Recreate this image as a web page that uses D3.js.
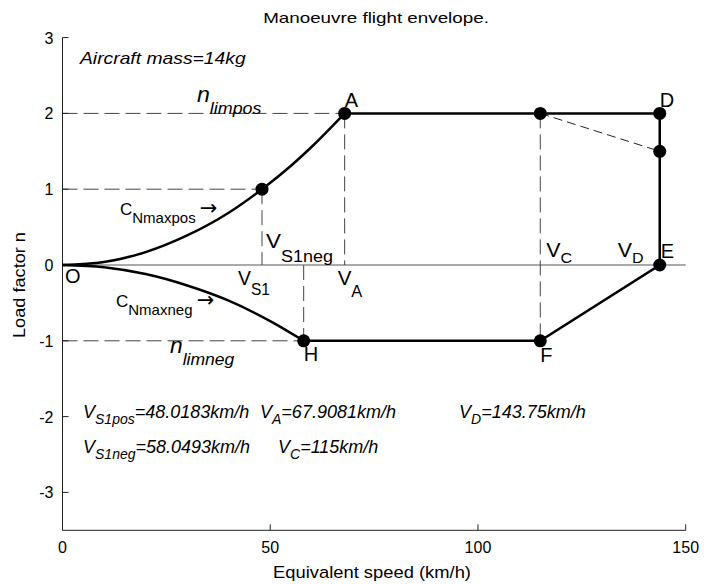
<!DOCTYPE html>
<html>
<head>
<meta charset="utf-8">
<script src="https://cdn.jsdelivr.net/npm/d3@7"></script>
<style>
  body { margin: 0; background: #fff; }
  text { font-family: "Liberation Sans", Arial, sans-serif; fill: #000; }
  .arrow { font-family: "DejaVu Sans", sans-serif; }
</style>
</head>
<body>
<script>
// values
var posV = [0, 10, 20, 30, 40, 48.02, 55, 60, 67.91];      // C_Nmaxpos curve
var posN = [0, 0.04, 0.17, 0.39, 0.69, 1, 1.31, 1.56, 2];
var negV = [0, 10, 20, 30, 40, 50, 58.05];                 // C_Nmaxneg curve
var negN = [0, -0.03, -0.12, -0.27, -0.47, -0.74, -1];
var envV = [67.91, 115, 143.75, 143.75, 115, 58.05];       // A-C-D-E-F-H
var envN = [2, 2, 2, 0, -1, -1];
var dotV = [48.02, 67.91, 115, 143.75, 143.75, 143.75, 115, 58.05];
var dotN = [1, 2, 2, 2, 1.5, 0, -1, -1];
var xTicks = [0, 50, 100, 150];
var yTicks = [-3, -2, -1, 0, 1, 2, 3];

var width = 704, height = 584;

var svg = d3.select("body").append("svg")
    .attr("width", width)
    .attr("height", height);

var x = d3.scaleLinear().domain([0, 150]).range([62.5, 685.7]);
var y = d3.scaleLinear().domain([-3.5, 3]).range([530.3, 37.6]);

function pts(vs, ns) { return vs.map(function (v, i) { return [v, ns[i]]; }); }

// text with subscripts; o.w stretches it sideways to a target width
function rich(px, py, parts, o) {
  o = o || {};
  var t = svg.append("text")
      .style("font-style", o.italic ? "italic" : "normal")
      .attr("text-anchor", o.anchor || "start");
  var down = false;
  parts.forEach(function (p) {
    var isSub = p[1] == "sub";
    var ts = t.append("tspan").text(p[0])
        .style("font-size", (p[2] || (isSub ? (o.sub || 15) : (o.size || 20))) + "px");
    if (p[1] == "arrow") ts.attr("class", "arrow");
    if (isSub && !down) { ts.attr("dy", o.shift || 8); down = true; }
    else if (!isSub && down) { ts.attr("dy", -(o.shift || 8)); down = false; }
  });
  var sx = 1;
  if (o.w) sx = o.w / t.node().getBBox().width;
  t.attr("transform", "translate(" + px + "," + py + ")" + (o.rot ? " rotate(" + o.rot + ")" : "") +
         " scale(" + sx + ",1)");
  return t;
}

// zero line
svg.append("line")
    .attr("x1", x(0)).attr("x2", x(150))
    .attr("y1", y(0)).attr("y2", y(0))
    .attr("stroke", "#555").attr("stroke-width", 1);

// dashed guide lines
var guides = [
  [[0, 2], [67.91, 2]], [[0, 1], [48.02, 1]], [[0, -1], [58.05, -1]],
  [[48.02, 1], [48.02, 0]], [[58.05, 0], [58.05, -1]],
  [[67.91, 2], [67.91, 0]], [[115, 2], [115, -1]]
];
guides.forEach(function (g) {
  svg.append("line")
      .attr("x1", x(g[0][0])).attr("y1", y(g[0][1]))
      .attr("x2", x(g[1][0])).attr("y2", y(g[1][1]))
      .attr("stroke", "#444").attr("stroke-width", 1)
      .attr("stroke-dasharray", "15,6");
});
svg.append("line")
    .attr("x1", x(115)).attr("y1", y(2))
    .attr("x2", x(143.75)).attr("y2", y(1.5))
    .attr("stroke", "#222").attr("stroke-width", 1)
    .attr("stroke-dasharray", "9,5");

// axes (MATLAB style, ticks inside, no box)
svg.append("line").attr("x1", x(0)).attr("x2", x(0)).attr("y1", y(3)).attr("y2", y(-3.5))
    .attr("stroke", "#222").attr("stroke-width", 1);
svg.append("line").attr("x1", x(0)).attr("x2", x(150)).attr("y1", y(-3.5)).attr("y2", y(-3.5))
    .attr("stroke", "#222").attr("stroke-width", 1);
yTicks.forEach(function (t) {
  svg.append("line").attr("x1", x(0)).attr("x2", x(0) + 6).attr("y1", y(t)).attr("y2", y(t))
      .attr("stroke", "#222");
  svg.append("text").attr("x", x(0) - 9).attr("y", y(t) + 6)
      .attr("text-anchor", "end").style("font-size", "16px").text(t);
});
xTicks.forEach(function (t) {
  svg.append("line").attr("x1", x(t)).attr("x2", x(t)).attr("y1", y(-3.5)).attr("y2", y(-3.5) - 6)
      .attr("stroke", "#222");
  svg.append("text").attr("x", x(t)).attr("y", 553)
      .attr("text-anchor", "middle").style("font-size", "16px").text(t);
});

// curves and envelope
var line = d3.line().x(function (d) { return x(d[0]); }).y(function (d) { return y(d[1]); });
var smooth = d3.line().curve(d3.curveMonotoneX)
    .x(function (d) { return x(d[0]); }).y(function (d) { return y(d[1]); });

svg.append("path").attr("d", smooth(pts(posV, posN)))
    .attr("fill", "none").attr("stroke", "#000").attr("stroke-width", 2.5);
svg.append("path").attr("d", smooth(pts(negV, negN)))
    .attr("fill", "none").attr("stroke", "#000").attr("stroke-width", 2.5);
svg.append("path").attr("d", line(pts(envV, envN)))
    .attr("fill", "none").attr("stroke", "#000").attr("stroke-width", 2.5);

svg.selectAll("circle.dot").data(pts(dotV, dotN)).enter().append("circle")
    .attr("class", "dot")
    .attr("cx", function (d) { return x(d[0]); })
    .attr("cy", function (d) { return y(d[1]); })
    .attr("r", 6.5).attr("fill", "#000");

// title and axis labels
rich(376, 23, [["Manoeuvre flight envelope."]], { size: 15, w: 226, anchor: "middle" });
rich(372, 578, [["Equivalent speed (km/h)"]], { size: 17, w: 198, anchor: "middle" });
rich(25, 285, [["Load factor n"]], { size: 17, w: 106, anchor: "middle", rot: -90 });

// annotations
rich(80, 64, [["Aircraft mass=14kg"]], { italic: true, size: 16, w: 167 });
rich(197, 102, [["n"], ["limpos", "sub"]], { italic: true, size: 22, sub: 17, shift: 12, w: 65 });
rich(170, 353, [["n"], ["limneg", "sub"]], { italic: true, size: 22, sub: 17, shift: 12, w: 65 });

rich(x(67.91), y(2) - 6, [["A"]]);
rich(x(143.75), y(2) - 6, [["D"]]);
rich(x(143.75) + 1, y(0) - 7, [["E"]]);
rich(65, 283, [["O"]]);
rich(x(58.05), y(-1) + 20, [["H"]]);
rich(x(115), y(-1) + 21, [["F"]]);

rich(x(143.75) - 42, y(0) - 8, [["V"], ["D", "sub"]], { shift: 6, w: 26 });
rich(x(115) + 6, y(0) - 8, [["V"], ["C", "sub"]], { shift: 6, w: 26 });
rich(x(48.02) + 4, y(0) - 17, [["V"], ["S1neg", "sub"]], { sub: 16, shift: 14, w: 67 });
rich(x(48.02) - 24, y(0) + 20, [["V"], ["S1", "sub"]], { sub: 16, shift: 10, w: 32 });
rich(x(67.91) - 7, y(0) + 20, [["V"], ["A", "sub"]], { sub: 16, shift: 12, w: 25 });

rich(120, 215, [["C"], ["Nmaxpos", "sub"], ["\u2009\u2192", "arrow", 21]], { size: 17, sub: 15, shift: 8 });
rich(116, 307, [["C"], ["Nmaxneg", "sub"], ["\u2009\u2192", "arrow", 21]], { size: 17, sub: 15, shift: 8 });

var bo = { italic: true, size: 18, sub: 14, shift: 6 };
rich(83, 418, [["V"], ["S1pos", "sub"], ["=48.0183km/h"]], bo);
rich(260, 418, [["V"], ["A", "sub"], ["=67.9081km/h"]], bo);
rich(459, 418, [["V"], ["D", "sub"], ["=143.75km/h"]], bo);
rich(83, 453, [["V"], ["S1neg", "sub"], ["=58.0493km/h"]], bo);
rich(278, 453, [["V"], ["C", "sub"], ["=115km/h"]], bo);
</script>
</body>
</html>
